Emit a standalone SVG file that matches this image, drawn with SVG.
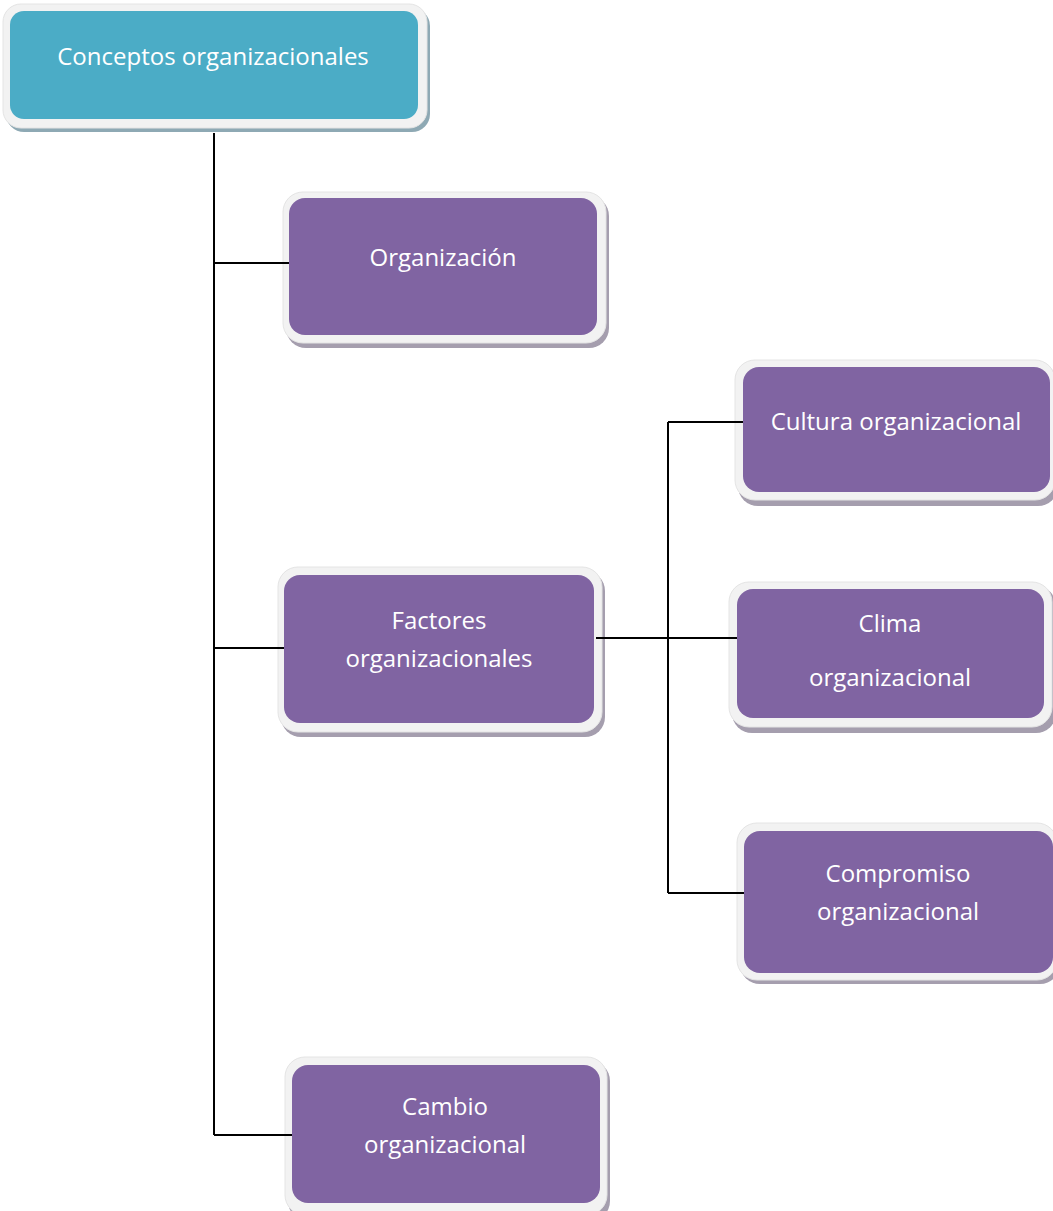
<svg xmlns="http://www.w3.org/2000/svg" width="1053" height="1211" viewBox="0 0 1053 1211">
<style>
.sh{fill:#a59eae}
.shT{fill:#8ea9b4}
.out{fill:#f2f2f2;stroke:#e4e4e4;stroke-width:1}
.inP{fill:#8064a2}
.inT{fill:#4bacc6}
.t{font-family:"Open Sans","Liberation Sans",sans-serif;font-size:24px;fill:#ffffff;text-anchor:middle}
.c{stroke:#000;stroke-width:2;fill:none}
</style>
<rect width="1053" height="1211" fill="#ffffff"/>
<g id="root">
<rect class="shT" x="6" y="8" width="424" height="124" rx="18"/>
<rect class="out" x="3" y="4" width="424" height="124" rx="18"/>
<rect class="inT" x="10" y="11" width="408" height="108" rx="14"/>
<text class="t" x="213" y="65">Conceptos organizacionales</text>
</g>
<g id="organizacion">
<rect class="sh" x="286" y="196" width="323" height="152" rx="20"/>
<rect class="out" x="283" y="192" width="323" height="151" rx="20"/>
<rect class="inP" x="289" y="198" width="308" height="137" rx="16"/>
<text class="t" x="443" y="266">Organización</text>
</g>
<g id="factores">
<rect class="sh" x="281" y="571" width="324" height="166" rx="20"/>
<rect class="out" x="278" y="567" width="324" height="165" rx="20"/>
<rect class="inP" x="284" y="575" width="310" height="148" rx="16"/>
<text class="t" x="439" y="629">Factores</text>
<text class="t" x="439" y="667">organizacionales</text>
</g>
<g id="cultura">
<rect class="sh" x="738" y="364" width="320" height="142" rx="20"/>
<rect class="out" x="735" y="360" width="320" height="140" rx="20"/>
<rect class="inP" x="743" y="367" width="307" height="125" rx="16"/>
<text class="t" x="896" y="430">Cultura organizacional</text>
</g>
<g id="clima">
<rect class="sh" x="732" y="586" width="324" height="147" rx="20"/>
<rect class="out" x="729" y="582" width="323" height="145" rx="20"/>
<rect class="inP" x="737" y="589" width="307" height="129" rx="16"/>
<text class="t" x="890" y="632">Clima</text>
<text class="t" x="890" y="686">organizacional</text>
</g>
<g id="compromiso">
<rect class="sh" x="740" y="827" width="320" height="157" rx="20"/>
<rect class="out" x="737" y="823" width="320" height="157" rx="20"/>
<rect class="inP" x="744" y="831" width="309" height="142" rx="16"/>
<text class="t" x="898" y="882">Compromiso</text>
<text class="t" x="898" y="920">organizacional</text>
</g>
<g id="cambio">
<rect class="sh" x="288" y="1061" width="322" height="160" rx="20"/>
<rect class="out" x="285" y="1057" width="322" height="158" rx="20"/>
<rect class="inP" x="292" y="1065" width="308" height="138" rx="16"/>
<text class="t" x="445" y="1115">Cambio</text>
<text class="t" x="445" y="1153">organizacional</text>
</g>
<g id="connectors">
<path class="c" d="M214,133 V1135"/>
<path class="c" d="M214,263 H289"/>
<path class="c" d="M214,648 H284"/>
<path class="c" d="M214,1135 H292"/>
<path class="c" d="M596,638 H737"/>
<path class="c" d="M668,422 V893"/>
<path class="c" d="M668,422 H743"/>
<path class="c" d="M668,893 H744"/>
</g>
</svg>
